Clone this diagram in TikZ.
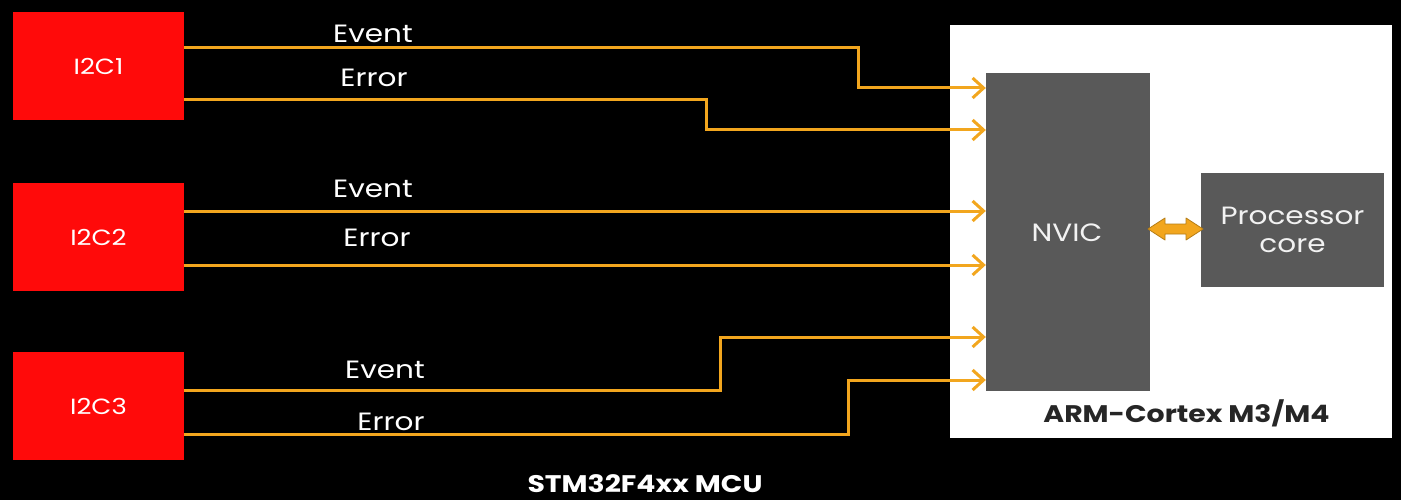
\documentclass[tikz,border=0pt]{standalone}
\usepackage{fontspec}
\setmainfont{Poppins}[FakeStretch=1.18]
\usetikzlibrary{arrows.meta}
\definecolor{sigorange}{RGB}{242,166,30}
\definecolor{nvicgray}{RGB}{89,89,89}
\definecolor{boxred}{RGB}{255,10,10}
\tikzset{
  periph/.style={fill=boxred, draw=none, minimum width=171pt, minimum height=108pt, inner sep=0pt, text=white, font=\fontsize{22pt}{24pt}\selectfont},
  grayblk/.style={fill=nvicgray, draw=none, inner sep=0pt, text=white!90!gray, font=\fontsize{25pt}{28pt}\selectfont, align=center},
  sig/.style={draw=sigorange, line width=3pt, -{Straight Barb[length=11pt,width=20pt,line width=3pt]}},
  lbl/.style={text=white, font=\fontsize{25pt}{27pt}\selectfont, inner sep=0pt},
  boldlbl/.style={font=\bfseries\fontsize{24pt}{26pt}\selectfont, inner sep=0pt},
  busarrow/.style={fill=sigorange, draw=sigorange!75!black, line width=0.8pt, line join=round}
}
\begin{document}
\begin{tikzpicture}[x=1pt,y=-1pt]
\useasboundingbox (0,0) rectangle (1401,500);
\fill[black] (0,0) rectangle (1401,500);
% white ARM box
\node[fill=white, draw=none, minimum width=442pt, minimum height=413pt, inner sep=0pt] (arm) at (1171,231.5) {};
\node[grayblk, minimum width=164pt, minimum height=318pt] (nvic) at (1068,232) {};
\node[text=white!90!gray, font=\fontsize{25pt}{28pt}\selectfont, inner sep=0pt] (nviclbl) at (1067,232.5) {NVIC};
\node[grayblk, minimum width=183pt, minimum height=114pt] (core) at (1292.5,230) {Processor\\core};
\node[boldlbl, text=black!85] (armlbl) at (1186.5,413.5) {ARM-Cortex M3/M4};
% peripherals
\node[periph] (i1) at (98.5,66) {I2C1};
\node[periph] (i2) at (98.5,237) {I2C2};
\node[periph] (i3) at (98.5,406) {I2C3};
% signals
\draw[sig] ([yshift=18pt]i1.east) -| (858,70) |- ([yshift=144pt]nvic.west);
\draw[sig] ([yshift=-34pt]i1.east) -| (706,115) |- ([yshift=102pt]nvic.west);
\draw[sig] ([yshift=26pt]i2.east) -- ([yshift=21pt]nvic.west);
\draw[sig] ([yshift=-28pt]i2.east) -- ([yshift=-33pt]nvic.west);
\draw[sig] ([yshift=16pt]i3.east) -| (720,360) |- ([yshift=-105pt]nvic.west);
\draw[sig] ([yshift=-28pt]i3.east) -| (848,400) |- ([yshift=-148pt]nvic.west);
% labels
\node[lbl] (l1) at (373,33.5) {Event};
\node[lbl] (l2) at (374,78) {Error};
\node[lbl] (l3) at (373,189) {Event};
\node[lbl] (l4) at (377,238) {Error};
\node[lbl] (l5) at (385,370) {Event};
\node[lbl] (l6) at (391,422) {Error};
% double arrow between NVIC and core
\draw[busarrow] (1148,229) -- (1165,218) -- (1165,224) -- (1186,224) -- (1186,218)
  -- (1203,229) -- (1186,240) -- (1186,234) -- (1165,234) -- (1165,240) -- cycle;
\node[boldlbl, text=white] (mcu) at (645,483.5) {STM32F4xx MCU};
\end{tikzpicture}
\end{document}
